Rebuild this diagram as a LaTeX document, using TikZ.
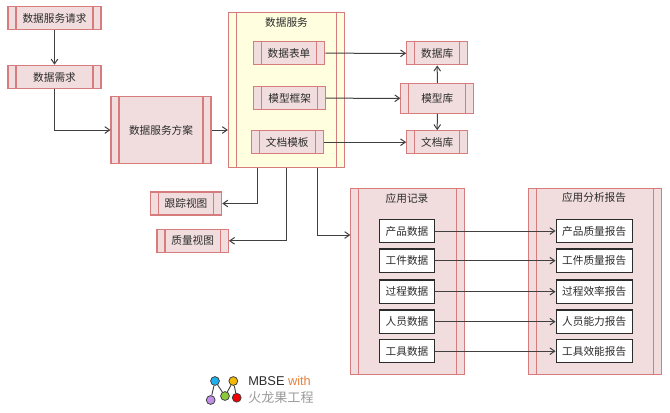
\documentclass[tikz,border=0pt]{standalone}
\usepackage{fontspec}
\setmainfont{Noto Sans CJK SC}
\newfontfamily\latinfont{Liberation Sans}
\usetikzlibrary{arrows.meta}
\definecolor{ink}{HTML}{2B2B2B}
\definecolor{line}{HTML}{404040}
\definecolor{edge}{HTML}{D67C7C}
\definecolor{rose}{HTML}{F1DDDD}
\definecolor{cream}{HTML}{FFFFDF}
\definecolor{with}{HTML}{E8803A}
\definecolor{brand}{HTML}{9A9A9A}
\definecolor{logoblue}{HTML}{1FB0F0}
\definecolor{logoamber}{HTML}{F5B800}
\definecolor{logopurple}{HTML}{C090E8}
\definecolor{logolime}{HTML}{8CC83C}
\definecolor{logored}{HTML}{F00000}

\begin{document}
\begin{tikzpicture}[
  x=.75pt,y=-.75pt,
  text=ink,font=\fontsize{8}{10}\selectfont,
  arrow/.style={-{Straight Barb[length=3.6pt,width=5pt]},draw=line,line width=.75pt},
  size/.style 2 args={minimum width=#1*.75pt,minimum height=#2*.75pt,inner sep=0pt},
  proc/.style={draw=edge,fill=#1,line width=.8pt,
    path picture={
      \draw[edge,line width=.8pt]
        ([xshift=6pt]path picture bounding box.north west) -- ([xshift=6pt]path picture bounding box.south west)
        ([xshift=-6pt]path picture bounding box.north east) -- ([xshift=-6pt]path picture bounding box.south east);
    }},
  proc/.default=rose,
  item/.style={draw=ink,fill=white,line width=.8pt},
  dot/.style={circle,draw=line,line width=.6pt,minimum size=6.6pt,inner sep=0pt}
]
  \useasboundingbox (0,0) rectangle (670,412);

  % left column
  \node[proc,size={93}{23.5}] (request) at (54.5,18.2) {数据服务请求};
  \node[proc,size={93}{23.5}] (need) at (54.5,77) {数据需求};
  \node[proc,size={100}{66.5}] (plan) at (161,130) {数据服务方案};

  % data service
  \node[proc=cream,size={116.5}{155.5}] (service) at (286.7,90.2) {};
  \node (servicetitle) at (286.5,22) {数据服务};
  \node[proc,size={71.5}{23}] (form) at (289,53.2) {数据表单};
  \node[proc,size={71.5}{23}] (frame) at (289.7,98.2) {模型框架};
  \node[proc,size={71.5}{23}] (template) at (287.3,142.2) {文档模板};

  % stores
  \node[proc,size={61}{23.3}] (db) at (437.2,53.3) {数据库};
  \node[proc,size={72.7}{30}] (modellib) at (437.3,98.3) {模型库};
  \node[proc,size={61}{23}] (doclib) at (437.2,142.2) {文档库};

  % views
  \node[proc,size={71.4}{23}] (trace) at (186,203.5) {跟踪视图};
  \node[proc,size={71.4}{23}] (quality) at (192.7,240.8) {质量视图};

  % records and reports
  \node[proc,size={113.7}{185.6}] (records) at (407.2,281.5) {};
  \node (recordstitle) at (407,198) {应用记录};
  \node[proc,size={133.4}{186.3}] (reports) at (595,281.2) {};
  \node (reportstitle) at (594,197) {应用分析报告};
  \foreach \name/\y/\rec/\rep in {
    product/231/产品数据/产品质量报告,
    part/260.7/工件数据/工件质量报告,
    process/291.7/过程数据/过程效率报告,
    person/321.7/人员数据/人员能力报告,
    tool/351.2/工具数据/工具效能报告}{
    \node[item,size={55.4}{23.4}] (rec\name) at (407,\y) {\rec};
    \node[item,size={76.3}{23.4}] (rep\name) at (594.2,\y) {\rep};
    \draw[arrow] (rec\name) -- (rep\name);
  }

  \coordinate (traceout) at (257,168);
  \coordinate (qualityout) at (286.7,168);
  \coordinate (recordout) at (317,168);
  \coordinate (recordin) at (350.3,235);

  \draw[arrow] (request) -- (need);
  \draw[arrow] (need.south) |- (plan.west);
  \draw[arrow] (plan) -- (service.west |- plan);
  \draw[arrow] (form) -- (db);
  \draw[arrow] (frame) -- (modellib);
  \draw[arrow] (template) -- (doclib);
  \draw[arrow] (modellib) -- (db);
  \draw[arrow] (modellib) -- (doclib);
  \draw[arrow] (traceout) |- (trace.east);
  \draw[arrow] (qualityout) |- (quality.east);
  \draw[arrow] (recordout) |- (recordin);

  % logo
  \node[dot,fill=logoblue] (blue) at (215,381) {};
  \node[dot,fill=logoamber] (amber) at (233.3,381) {};
  \node[dot,fill=logopurple] (purple) at (210.7,400) {};
  \node[dot,fill=logolime] (lime) at (225,396) {};
  \node[dot,fill=logored] (cherry) at (236.7,397.7) {};
  \draw[line,line width=.7pt] (purple) -- (blue) (blue) -- (lime) (lime) -- (amber) (amber) -- (cherry);
  \node[anchor=west,inner sep=0pt,font=\latinfont\fontsize{9.6}{11}\selectfont] (mbse) at (248,381)
    {MBSE \textcolor{with}{with}};
  \node[anchor=west,inner sep=0pt,text=brand,font=\fontsize{9.8}{11}\selectfont] (brandname) at (248,398) {火龙果工程};
\end{tikzpicture}
\end{document}
